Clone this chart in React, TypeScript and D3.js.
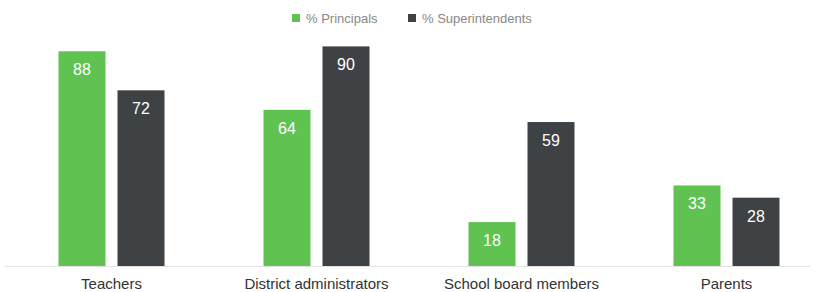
import React, { useEffect, useRef } from "react";
import * as d3 from "d3";

const categories = ["Teachers", "District administrators", "School board members", "Parents"];
const principals = [88, 64, 18, 33];
const superintendents = [72, 90, 59, 28];
const seriesNames = ["% Principals", "% Superintendents"];
const colors = ["#5fc251", "#3f4244"];

const App = () => {
  const ref = useRef<SVGSVGElement>(null);

  useEffect(() => {
    const svg = d3.select(ref.current);
    svg.selectAll("*").remove();

    const width = 815;
    const height = 292;
    const font = "Liberation Sans, Arial, sans-serif";

    const x = d3.scaleBand().domain(categories).range([9, 829]).paddingInner(0).paddingOuter(0);
    const y = d3.scaleLinear().domain([0, 100]).range([266, 22]);
    const barW = 47;
    const gap = 12;

    // baseline
    svg.append("line")
      .attr("x1", 5).attr("x2", 810)
      .attr("y1", y(0) + 0.5).attr("y2", y(0) + 0.5)
      .attr("stroke", "#e3e3e3").attr("stroke-width", 1);

    const data = [principals, superintendents];
    data.forEach((vals, si) => {
      const g = svg.append("g");
      categories.forEach((c, i) => {
        const cx = (x(c) as number) + x.bandwidth() / 2;
        const bx = si === 0 ? cx - gap / 2 - barW : cx + gap / 2;
        g.append("rect")
          .attr("x", bx)
          .attr("y", y(vals[i]))
          .attr("width", barW)
          .attr("height", y(0) - y(vals[i]))
          .attr("fill", colors[si]);
        g.append("text")
          .attr("x", bx + barW / 2)
          .attr("y", y(vals[i]) + 24)
          .attr("text-anchor", "middle")
          .attr("font-family", font)
          .attr("font-size", 16)
          .attr("fill", "#fff")
          .text(vals[i]);
      });
    });

    // category labels
    categories.forEach(c => {
      svg.append("text")
        .attr("x", (x(c) as number) + x.bandwidth() / 2)
        .attr("y", 289)
        .attr("text-anchor", "middle")
        .attr("font-family", font)
        .attr("font-size", 15)
        .attr("fill", "#333")
        .text(c);
    });

    // legend
    const legendX = [292, 408];
    seriesNames.forEach((n, i) => {
      svg.append("rect")
        .attr("x", legendX[i]).attr("y", 14)
        .attr("width", 8).attr("height", 8)
        .attr("fill", colors[i]);
      svg.append("text")
        .attr("x", legendX[i] + 14).attr("y", 22.5)
        .attr("font-family", font)
        .attr("font-size", 13)
        .attr("fill", "#888")
        .text(n);
    });

    svg.attr("width", width).attr("height", height);
  }, []);

  return <svg ref={ref} style={{ position: "absolute", left: 0, top: 0 }} />;
};

export default App;
